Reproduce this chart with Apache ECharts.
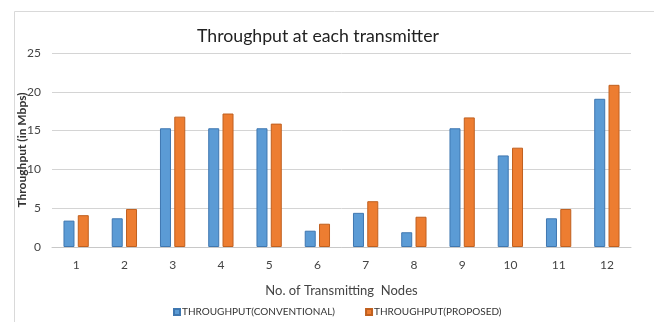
<!DOCTYPE html>
<html>
<head>
<meta charset="utf-8">
<script src="https://cdn.jsdelivr.net/npm/echarts@6/dist/echarts.min.js"></script>
<style>
html,body{margin:0;padding:0;background:#fff;}
#chart{width:654px;height:322px;}
</style>
</head>
<body>
<div id="chart"></div>
<script>
const categories = ['1','2','3','4','5','6','7','8','9','10','11','12'];
const conventional = [3.4, 3.7, 15.3, 15.3, 15.3, 2.1, 4.4, 1.9, 15.3, 11.8, 3.7, 19.1];
const proposed = [4.1, 4.9, 16.8, 17.2, 15.9, 3.0, 5.9, 3.9, 16.7, 12.8, 4.9, 20.9];
const seriesNames = ['THROUGHPUT(CONVENTIONAL)', 'THROUGHPUT(PROPOSED)'];

const font = 'Lato';
const chart = echarts.init(document.getElementById('chart'), null, {renderer: 'canvas'});
chart.setOption({
  animation: false,
  backgroundColor: '#fff',
  graphic: [{
    type: 'rect', left: 12, top: 9, silent: true,
    shape: {width: 640, height: 330},
    style: {fill: 'none', stroke: '#d9d9d9', lineWidth: 1}
  }],
  title: {
    text: 'Throughput at each transmitter',
    left: 192, top: 22,
    textStyle: {fontFamily: font, fontSize: 17.7, fontWeight: 'normal', color: '#222'}
  },
  legend: {
    data: seriesNames,
    bottom: 0, left: 168,
    itemWidth: 6, itemHeight: 6, itemGap: 30,
    icon: 'rect',
    textStyle: {fontFamily: font, fontSize: 10, color: '#333', padding: [0,0,0,-3]}
  },
  grid: {left: 52, right: 23, top: 53, bottom: 75, outerBoundsMode: 'none', containLabel: false},
  xAxis: {
    type: 'category', data: categories,
    name: 'No. of Transmitting  Nodes', nameLocation: 'middle', nameGap: 37,
    nameMoveOverlap: false,
    nameTextStyle: {fontFamily: font, fontSize: 13, color: '#444'},
    axisLine: {lineStyle: {color: '#c8c8c8'}},
    axisTick: {show: false},
    axisLabel: {fontFamily: font, fontSize: 12, color: '#444', margin: 12}
  },
  yAxis: {
    type: 'value', min: 0, max: 25, interval: 5,
    name: 'Throughput (in Mbps)', nameLocation: 'middle', nameGap: 24,
    nameMoveOverlap: false,
    nameTextStyle: {fontFamily: font, fontSize: 12, fontWeight: 'bold', color: '#333'},
    axisLine: {show: false}, axisTick: {show: false},
    axisLabel: {fontFamily: font, fontSize: 12, color: '#444', margin: 11},
    splitLine: {lineStyle: {color: '#d4d4d4'}}
  },
  series: [{
    name: seriesNames[0], type: 'bar', data: conventional,
    barWidth: 11, barGap: '30%',
    itemStyle: {color: '#5b9bd5', borderColor: '#3f77b0', borderWidth: 1}
  }, {
    name: seriesNames[1], type: 'bar', data: proposed,
    barWidth: 11, barGap: '30%',
    itemStyle: {color: '#ed7d31', borderColor: '#c0601f', borderWidth: 1}
  }]
});
</script>
</body>
</html>
